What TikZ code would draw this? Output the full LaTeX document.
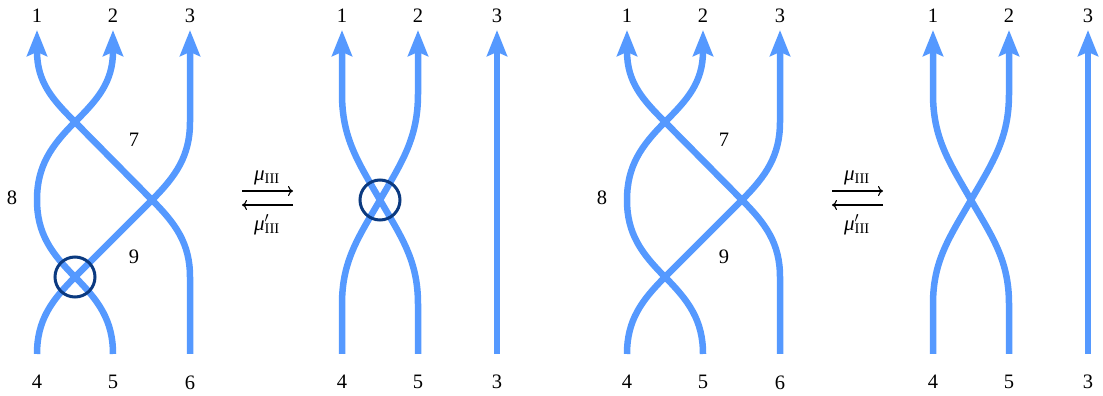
\documentclass[tikz,border=0pt]{standalone}
\usepackage{fontspec}
\setmainfont{Liberation Serif}
\usetikzlibrary{arrows.meta}
\definecolor{strandc}{HTML}{5599FF}
\definecolor{ringc}{HTML}{0B3A80}
\begin{document}
\begin{tikzpicture}[x=1pt,y=1pt,
  strandline/.style={draw=strandc,line width=6.5pt},
  arrowed/.style={strandline,-{Stealth[length=26pt,width=20pt,inset=4pt]}},
  ringnode/.style={draw=ringc,line width=3pt,circle,minimum size=40pt,inner sep=0pt},
  lab/.style={font=\fontsize{20.5}{24}\selectfont,inner sep=0pt},
  movelab/.style={font=\fontsize{21}{24}\selectfont,inner sep=0pt},
  movearrow/.style={line width=1.1pt,-{To[length=5pt,width=10pt]}}
]
\useasboundingbox (0,0) rectangle (1103,396);

% ---------- panels 1 and 3 ----------
\foreach \dx/\p in {0/a,590/c}{
\begin{scope}[xshift=\dx pt, name prefix=\p-]
  \coordinate (b4) at (37,42);  \coordinate (b5) at (113,42); \coordinate (b6) at (190,42);
  \coordinate (t1) at (37,366); \coordinate (t2) at (113,366); \coordinate (t3) at (190,366);
  \coordinate (xa) at (75,119); \coordinate (xb) at (152,196); \coordinate (xc) at (75,274);
  \coordinate (lft) at (37,196); \coordinate (v3) at (190,274); \coordinate (v6) at (190,119);
  \coordinate (v2) at (113,345); \coordinate (v1) at (37,345);
  \draw[arrowed] (b4) to[out=90,in=-135] (xa) -- (xb) to[out=45,in=-90] (v3) -- (t3);
  \draw[arrowed] (b5) to[out=90,in=-45] (xa) to[out=135,in=-90] (lft)
        to[out=90,in=-135] (xc) to[out=45,in=-90] (v2) -- (t2);
  \draw[arrowed] (b6) -- (v6) to[out=90,in=-45] (xb) -- (xc) to[out=135,in=-90] (v1) -- (t1);
  \node[lab] (n1) at (37,380) {1};
  \node[lab] (n2) at (113,380) {2};
  \node[lab] (n3) at (190,380) {3};
  \node[lab] (n4) at (37,14) {4};
  \node[lab] (n5) at (113,14) {5};
  \node[lab] (n6) at (190,13) {6};
  \node[lab] (n7) at (134,256) {7};
  \node[lab] (n8) at (12,198) {8};
  \node[lab] (n9) at (134,139) {9};
\end{scope}}
\node[ringnode] (ring1) at (a-xa) {};

% ---------- panels 2 and 4 ----------
\foreach \dx/\p in {0/b,591/d}{
\begin{scope}[xshift=\dx pt, name prefix=\p-]
  \coordinate (b4) at (342,42);  \coordinate (b5) at (418,42); \coordinate (b3) at (497,42);
  \coordinate (t1) at (342,366); \coordinate (t2) at (418,366); \coordinate (t3) at (497,366);
  \coordinate (x) at (380,196);
  \coordinate (u4) at (342,92); \coordinate (u5) at (418,92);
  \coordinate (w1) at (342,302); \coordinate (w2) at (418,302);
  \draw[arrowed] (b4) -- (u4) to[out=90,in=-120] (x) to[out=60,in=-90] (w2) -- (t2);
  \draw[arrowed] (b5) -- (u5) to[out=90,in=-60] (x) to[out=120,in=-90] (w1) -- (t1);
  \draw[arrowed] (b3) -- (t3);
  \node[lab] (n1) at (342,380) {1};
  \node[lab] (n2) at (418,380) {2};
  \node[lab] (n3) at (497,380) {3};
  \node[lab] (n4) at (342,14) {4};
  \node[lab] (n5) at (418,14) {5};
  \node[lab] (n6) at (497,14) {3};
\end{scope}}
\node[ringnode] (ring2) at (b-x) {};

% ---------- move arrows ----------
\foreach \dx/\p in {0/m,590/n}{
\begin{scope}[xshift=\dx pt, name prefix=\p-]
  \coordinate (fl) at (242,205); \coordinate (fr) at (293,205);
  \coordinate (gl) at (242,191); \coordinate (gr) at (293,191);
  \draw[movearrow] (fl) -- (fr);
  \draw[movearrow] (gr) -- (gl);
  \node[movelab] (mu) at (267,218) {{\itshape μ}\textsubscript{III}};
  \node[movelab] (mup) at (267,171) {{\itshape μ}\rlap{$'$}\textsubscript{III}};
\end{scope}}
\end{tikzpicture}
\end{document}
